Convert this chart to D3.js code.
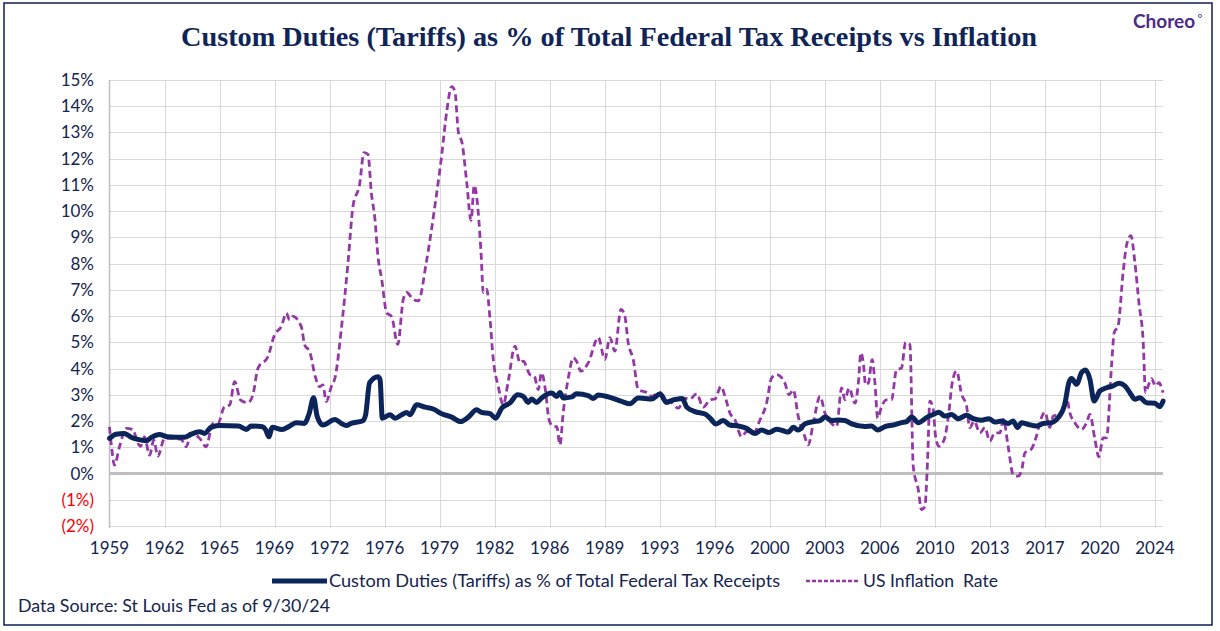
<!DOCTYPE html>
<html>
<head>
<meta charset="utf-8">
<script src="https://cdn.jsdelivr.net/npm/d3@7"></script>
<style>
    body { margin: 0; background: #fff; }
    svg { display: block; }
</style>
</head>
<body>
<svg width="1220" height="631"></svg>
<script>
// Custom duties as % of total federal tax receipts (decimal year, %)
const tariffYears = [1959.00, 1959.40, 1959.93, 1960.35, 1960.76, 1961.28, 1961.60, 1962.10, 1962.60, 1963.66,
    1964.07, 1964.60, 1964.90, 1965.30, 1965.80, 1967.00, 1967.50, 1967.80, 1968.50, 1968.70,
    1968.90, 1969.10, 1969.70, 1970.20, 1970.60, 1971.10, 1971.40, 1971.67, 1971.90, 1972.25,
    1973.00, 1973.40, 1973.70, 1974.00, 1974.70, 1974.90, 1975.15, 1975.67, 1975.80, 1975.94,
    1976.42, 1976.73, 1977.14, 1977.45, 1977.66, 1978.07, 1978.59, 1979.10, 1979.63, 1980.25,
    1980.80, 1981.28, 1981.80, 1982.10, 1982.63, 1982.98, 1983.35, 1983.87, 1984.34, 1984.69,
    1985.00, 1985.21, 1985.52, 1985.83, 1986.45, 1986.77, 1986.97, 1987.18, 1987.70, 1988.00,
    1988.73, 1989.04, 1989.35, 1989.97, 1990.80, 1991.32, 1991.83, 1992.25, 1992.66, 1993.18,
    1993.60, 1994.01, 1994.32, 1994.57, 1994.84, 1995.35, 1995.98, 1996.29, 1996.66, 1997.11,
    1997.53, 1998.04, 1998.56, 1999.08, 1999.49, 1999.95, 2000.42, 2000.84, 2001.15, 2001.46,
    2001.77, 2002.18, 2002.70, 2003.12, 2003.43, 2003.84, 2004.25, 2004.67, 2005.08, 2005.91,
    2006.32, 2006.70, 2007.15, 2007.67, 2008.18, 2008.50, 2008.81, 2009.22, 2009.73, 2010.15,
    2010.50, 2010.87, 2011.29, 2011.70, 2012.22, 2012.63, 2013.15, 2013.60, 2013.98, 2014.39,
    2014.80, 2015.11, 2015.38, 2015.63, 2016.05, 2016.56, 2016.98, 2017.49, 2017.91, 2018.32,
    2018.57, 2018.74, 2019.05, 2019.36, 2019.61, 2019.88, 2020.14, 2020.50, 2020.91, 2021.32,
    2021.68, 2022.05, 2022.36, 2022.67, 2022.98, 2023.39, 2023.91, 2024.22, 2024.42];
const tariffVals = [1.34, 1.50, 1.53, 1.38, 1.30, 1.25, 1.38, 1.49, 1.40, 1.38,
    1.50, 1.59, 1.53, 1.76, 1.83, 1.81, 1.68, 1.81, 1.78, 1.66,
    1.40, 1.76, 1.68, 1.81, 1.94, 1.91, 2.29, 2.89, 2.17, 1.85,
    2.06, 1.91, 1.83, 1.91, 2.00, 2.23, 3.46, 3.69, 3.58, 2.11,
    2.24, 2.11, 2.24, 2.33, 2.24, 2.62, 2.53, 2.46, 2.28, 2.15,
    1.98, 2.15, 2.43, 2.33, 2.28, 2.11, 2.49, 2.69, 3.00, 2.94,
    2.71, 2.84, 2.71, 2.88, 3.07, 2.94, 3.09, 2.88, 2.92, 3.04,
    2.97, 2.86, 2.99, 2.92, 2.75, 2.66, 2.88, 2.86, 2.84, 3.03,
    2.71, 2.81, 2.84, 2.86, 2.53, 2.36, 2.27, 2.11, 1.89, 2.02,
    1.85, 1.81, 1.72, 1.53, 1.66, 1.56, 1.69, 1.63, 1.58, 1.76,
    1.66, 1.89, 1.98, 2.02, 2.15, 2.02, 2.04, 2.02, 1.89, 1.79,
    1.81, 1.66, 1.79, 1.85, 1.94, 1.98, 2.15, 1.94, 2.13, 2.25,
    2.34, 2.19, 2.25, 2.09, 2.22, 2.09, 2.03, 2.09, 1.96, 2.00,
    1.91, 2.00, 1.75, 1.94, 1.87, 1.81, 1.91, 1.94, 2.13, 2.64,
    3.46, 3.62, 3.40, 3.85, 3.95, 3.59, 2.76, 3.15, 3.27, 3.34,
    3.44, 3.34, 3.08, 2.83, 2.89, 2.70, 2.68, 2.55, 2.76];

// US inflation rate (decimal year, %)
const inflYears = [1959.00, 1959.15, 1959.31, 1959.62, 1960.04, 1960.45, 1960.76, 1960.93, 1961.17, 1961.49,
    1961.75, 1962.00, 1962.42, 1962.83, 1963.45, 1963.76, 1964.07, 1964.60, 1965.00, 1965.42,
    1965.73, 1966.14, 1966.46, 1966.77, 1967.14, 1967.60, 1967.90, 1968.22, 1968.84, 1969.25,
    1969.67, 1969.98, 1970.18, 1970.39, 1970.91, 1971.12, 1971.43, 1971.78, 1972.05, 1972.25,
    1972.46, 1972.77, 1973.02, 1973.39, 1973.81, 1974.12, 1974.53, 1974.80, 1975.05, 1975.26,
    1975.48, 1975.67, 1975.90, 1976.21, 1976.52, 1976.90, 1977.24, 1977.45, 1977.86, 1978.17,
    1978.69, 1979.21, 1979.63, 1979.94, 1980.25, 1980.45, 1980.66, 1980.90, 1981.18, 1981.45,
    1981.65, 1981.80, 1982.07, 1982.21, 1982.42, 1982.63, 1982.83, 1983.14, 1983.45, 1983.76,
    1984.18, 1984.49, 1984.69, 1985.11, 1985.38, 1985.62, 1985.83, 1986.08, 1986.29, 1986.56,
    1986.77, 1986.97, 1987.18, 1987.49, 1987.80, 1988.00, 1988.27, 1988.73, 1989.35, 1989.76,
    1990.07, 1990.38, 1990.76, 1991.00, 1991.21, 1991.52, 1991.83, 1992.14, 1992.45, 1992.66,
    1993.18, 1993.49, 1993.90, 1994.32, 1994.73, 1995.04, 1995.46, 1995.87, 1996.29, 1996.60,
    1996.97, 1997.22, 1997.53, 1997.84, 1998.25, 1998.56, 1998.98, 1999.39, 1999.80, 2000.11,
    2000.42, 2000.94, 2001.19, 2001.46, 2001.77, 2002.14, 2002.39, 2002.70, 2003.12, 2003.43,
    2003.74, 2004.15, 2004.46, 2004.67, 2004.92, 2005.29, 2005.50, 2005.66, 2005.81, 2005.95,
    2006.12, 2006.36, 2006.53, 2006.70, 2006.94, 2007.25, 2007.56, 2007.87, 2008.18, 2008.43,
    2008.70, 2008.91, 2009.22, 2009.42, 2009.63, 2009.80, 2009.94, 2010.15, 2010.29, 2010.50,
    2010.83, 2011.08, 2011.33, 2011.60, 2011.91, 2012.22, 2012.42, 2012.69, 2013.05, 2013.36,
    2013.66, 2013.98, 2014.29, 2014.50, 2014.80, 2015.11, 2015.42, 2015.67, 2015.84, 2016.25,
    2016.56, 2016.83, 2017.08, 2017.39, 2017.60, 2018.01, 2018.43, 2018.63, 2018.94, 2019.36,
    2019.67, 2019.88, 2020.19, 2020.43, 2020.70, 2020.91, 2021.22, 2021.39, 2021.63, 2021.94,
    2022.15, 2022.42, 2022.67, 2022.92, 2023.19, 2023.33, 2023.50, 2023.70, 2023.95, 2024.16,
    2024.42];
const inflVals = [1.78, 0.89, 0.32, 1.02, 1.72, 1.68, 1.15, 1.04, 1.40, 0.70,
    1.27, 0.66, 1.34, 1.34, 1.30, 1.02, 1.53, 1.34, 1.02, 1.91,
    1.91, 2.55, 2.61, 3.50, 2.80, 2.70, 2.99, 4.01, 4.46, 5.29,
    5.60, 6.11, 5.86, 5.99, 5.60, 4.90, 4.65, 3.69, 3.31, 3.38,
    2.74, 3.31, 3.69, 5.48, 8.03, 10.19, 11.02, 12.23, 12.17, 10.70,
    9.71, 8.28, 7.41, 6.13, 5.98, 4.92, 6.64, 6.90, 6.64, 6.58,
    8.11, 10.22, 12.14, 13.80, 14.75, 14.56, 13.03, 12.58, 11.11, 9.65,
    10.99, 10.54, 8.43, 6.90, 7.03, 5.88, 4.35, 3.32, 2.62, 3.52,
    4.86, 4.22, 4.28, 3.77, 3.71, 3.20, 3.84, 3.13, 2.05, 1.79,
    1.79, 1.09, 2.37, 3.64, 4.41, 4.28, 3.90, 4.22, 5.18, 4.35,
    5.18, 4.67, 6.26, 6.00, 4.98, 4.35, 3.20, 3.13, 3.07, 2.94,
    3.09, 2.87, 2.71, 2.49, 2.87, 2.84, 3.04, 2.53, 2.81, 2.84,
    3.32, 2.94, 2.30, 2.04, 1.40, 1.60, 1.53, 2.04, 2.68, 3.64,
    3.77, 3.45, 3.00, 3.19, 2.17, 1.47, 1.09, 1.92, 2.94, 2.30,
    1.98, 1.79, 3.26, 2.81, 3.26, 2.68, 3.45, 4.60, 4.21, 3.38,
    3.45, 4.34, 3.45, 2.11, 2.55, 2.81, 2.81, 3.96, 4.02, 5.00,
    4.92, 0.26, -0.61, -1.38, -1.25, 0.54, 2.76, 2.45, 1.43, 1.04,
    1.30, 2.13, 3.46, 3.91, 3.02, 2.57, 1.75, 2.00, 1.55, 1.75,
    1.24, 1.55, 1.55, 2.06, 1.04, -0.04, -0.10, 0.22, 0.79, 0.94,
    1.43, 2.06, 2.34, 1.75, 2.19, 2.25, 2.89, 2.32, 1.94, 1.68,
    1.94, 2.25, 1.30, 0.64, 1.36, 1.36, 4.10, 5.38, 5.63, 7.67,
    8.69, 9.07, 8.05, 6.52, 4.99, 3.08, 3.34, 3.62, 3.34, 3.46,
    3.08];

// axis: monthly categories Jan 1959 .. Jun 2024, a label every 41 months
const xTickLabels = ["1959", "1962", "1965", "1969", "1972", "1976", "1979", "1982", "1986", "1989",
    "1993", "1996", "2000", "2003", "2006", "2010", "2013", "2017", "2020", "2024"];
const monthsPerTick = 41;
const yTicks = [-2, -1, 0, 1, 2, 3, 4, 5, 6, 7, 8, 9, 10, 11, 12, 13, 14, 15];

const svg = d3.select("svg");
const navy = "#0b2459";
const purple = "#9438a6";
const textCol = "#13254f";

const margin = { top: 80, right: 57, bottom: 105, left: 109.5 };
const width = 1220, height = 631;

const x = d3.scaleLinear()
    .domain([1959, 1959 + 785 / 12])
    .range([margin.left, width - margin.right]);
const y = d3.scaleLinear()
    .domain([-2, 15])
    .range([height - margin.bottom, margin.top]);

// frame
svg.append("rect")
    .attr("x", 4).attr("y", 3)
    .attr("width", 1208).attr("height", 622)
    .attr("fill", "#fff")
    .attr("stroke", "#1c2c5e")
    .attr("stroke-width", 1.6);

// title + logo
svg.append("text")
    .attr("x", 609).attr("y", 46)
    .attr("text-anchor", "middle")
    .attr("font-family", "Liberation Serif, serif")
    .attr("font-weight", "bold")
    .attr("font-size", 27)
    .attr("fill", "#0f2557")
    .attr("textLength", 856)
    .attr("lengthAdjust", "spacingAndGlyphs")
    .text("Custom Duties (Tariffs) as % of Total Federal Tax Receipts vs Inflation");

svg.append("text")
    .attr("x", 1133).attr("y", 28)
    .attr("font-family", "Lato, sans-serif")
    .attr("font-weight", "bold")
    .attr("font-size", 19)
    .attr("fill", "#4b2b86")
    .text("Choreo");
svg.append("circle")
    .attr("cx", 1200).attr("cy", 16).attr("r", 1.6)
    .attr("fill", "none").attr("stroke", "#4b2b86").attr("stroke-width", 0.8);

const tickPos = xTickLabels.map((t, i) => 1959 + i * monthsPerTick / 12);

// grid
const grid = svg.append("g");
grid.selectAll(".hgrid")
    .data(yTicks.filter(v => v !== 0))
    .join("line")
    .attr("x1", x.range()[0]).attr("x2", x.range()[1])
    .attr("y1", d => Math.round(y(d)) + 0.5).attr("y2", d => Math.round(y(d)) + 0.5)
    .attr("stroke", "#d9d9d9").attr("stroke-width", 1);
grid.selectAll(".vgrid")
    .data(tickPos.slice(1))
    .join("line")
    .attr("x1", d => Math.round(x(d)) + 0.5).attr("x2", d => Math.round(x(d)) + 0.5)
    .attr("y1", y(15)).attr("y2", y(-2) + 2)
    .attr("stroke", "#d9d9d9").attr("stroke-width", 1);

// left axis line
svg.append("line")
    .attr("x1", x(1959)).attr("x2", x(1959))
    .attr("y1", y(15)).attr("y2", y(-2) + 2)
    .attr("stroke", "#bfbfbf").attr("stroke-width", 1.5);

// zero line
svg.append("line")
    .attr("x1", x.range()[0]).attr("x2", x.range()[1])
    .attr("y1", y(0)).attr("y2", y(0))
    .attr("stroke", "#bfbfbf").attr("stroke-width", 3);

// y labels
svg.append("g").selectAll("text")
    .data(yTicks)
    .join("text")
    .attr("x", 94)
    .attr("y", d => y(d) + 6)
    .attr("text-anchor", "end")
    .attr("font-family", "Lato, sans-serif")
    .attr("font-size", 17)
    .attr("fill", d => d < 0 ? "#ff0000" : textCol)
    .text(d => d < 0 ? "(" + (-d) + "%)" : d + "%");

// x labels
svg.append("g").selectAll("text")
    .data(xTickLabels)
    .join("text")
    .attr("x", (d, i) => x(tickPos[i]))
    .attr("y", 554)
    .attr("text-anchor", "middle")
    .attr("font-family", "Lato, sans-serif")
    .attr("font-size", 17)
    .attr("fill", textCol)
    .text(d => d);

// series
const line = d3.line()
    .x(d => x(d[0]))
    .y(d => y(d[1]))
    .curve(d3.curveMonotoneX);

const tariffData = d3.zip(tariffYears, tariffVals);
const inflData = d3.zip(inflYears, inflVals);

svg.append("path")
    .datum(inflData)
    .attr("d", line)
    .attr("fill", "none")
    .attr("stroke", purple)
    .attr("stroke-width", 2.8)
    .attr("stroke-dasharray", "7,4");

svg.append("path")
    .datum(tariffData)
    .attr("d", line)
    .attr("fill", "none")
    .attr("stroke", navy)
    .attr("stroke-width", 5)
    .attr("stroke-linejoin", "round")
    .attr("stroke-linecap", "round");

// legend
const legend = svg.append("g")
    .attr("font-family", "Lato, sans-serif")
    .attr("font-size", 17.5)
    .attr("fill", textCol);
legend.append("line")
    .attr("x1", 272).attr("x2", 327).attr("y1", 581).attr("y2", 581)
    .attr("stroke", navy).attr("stroke-width", 5);
legend.append("text")
    .attr("x", 329).attr("y", 587)
    .attr("textLength", 451)
    .attr("lengthAdjust", "spacingAndGlyphs")
    .text("Custom Duties (Tariffs) as % of Total Federal Tax Receipts");
legend.append("line")
    .attr("x1", 806).attr("x2", 858).attr("y1", 581).attr("y2", 581)
    .attr("stroke", purple).attr("stroke-width", 2.6)
    .attr("stroke-dasharray", "4,2");
legend.append("text")
    .attr("x", 863).attr("y", 587)
    .attr("textLength", 135)
    .attr("lengthAdjust", "spacingAndGlyphs")
    .style("white-space", "pre")
    .text("US Inflation  Rate");

svg.append("text")
    .attr("x", 18).attr("y", 612)
    .attr("font-family", "Lato, sans-serif")
    .attr("font-size", 17.5)
    .attr("fill", textCol)
    .attr("textLength", 312)
    .attr("lengthAdjust", "spacingAndGlyphs")
    .text("Data Source: St Louis Fed as of 9/30/24");
</script>
</body>
</html>
